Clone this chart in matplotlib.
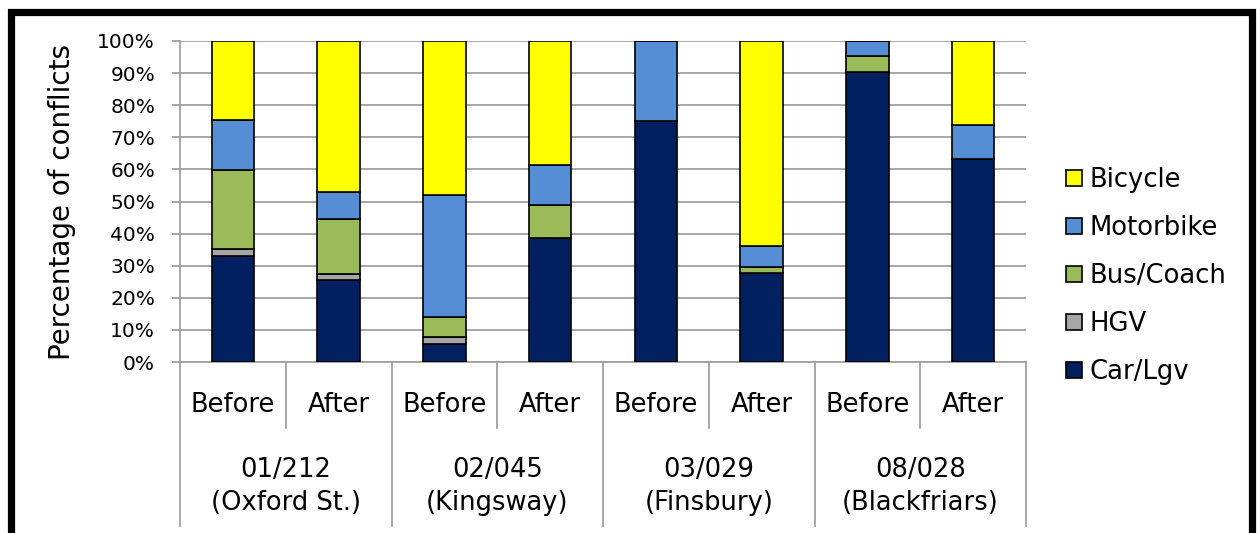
import matplotlib
matplotlib.use("Agg")
import matplotlib.pyplot as plt
from matplotlib.patches import Rectangle, Patch
import numpy as np

plt.rcParams['font.family'] = ['DejaVu Sans']

sites = ["01/212", "02/045", "03/029", "08/028"]
site_names = ["(Oxford St.)", "(Kingsway)", "(Finsbury)", "(Blackfriars)"]
periods = ["Before", "After"]

series_names = ["Car/Lgv", "HGV", "Bus/Coach", "Motorbike", "Bicycle"]
car = [33.0, 25.4, 5.7, 38.7, 75.0, 27.6, 90.4, 63.2]
hgv = [2.3, 2.1, 2.2, 0.0, 0.0, 0.0, 0.0, 0.0]
bus = [24.6, 17.2, 6.1, 10.3, 0.0, 2.0, 4.9, 0.0]
moto = [15.4, 8.4, 38.0, 12.3, 25.0, 6.5, 4.7, 10.6]
bike = [24.7, 46.9, 48.0, 38.7, 0.0, 63.9, 0.0, 26.2]
colors = ["#02205F", "#A6A6A6", "#9BBB59", "#558ED5", "#FFFF00"]

W, H = 1260, 533
fig = plt.figure(figsize=(W / 100, H / 100), dpi=100)
ax = fig.add_axes([180 / W, 1 - 362 / H, (1026 - 180) / W, (362 - 41) / H])

x = np.arange(len(car))
bottom = np.zeros(len(car))
for vals, col, name in zip([car, hgv, bus, moto, bike], colors, series_names):
    v = np.array(vals)
    ax.bar(x, v, width=0.4, bottom=bottom, color=col, edgecolor="black",
           linewidth=1.2, zorder=3, label=name)
    bottom += v

ax.set_xlim(-0.5, len(car) - 0.5)
ax.set_ylim(0, 100)
ax.set_yticks(np.arange(0, 101, 10))
ax.set_yticklabels([f"{v}%" for v in range(0, 101, 10)], fontsize=14.5)
ax.yaxis.grid(True, color="#A0A0A0", linewidth=1.3, zorder=0)
ax.tick_params(axis="y", length=6, width=1.3, color="#A0A0A0", pad=12)
ax.set_xticks([])
for s in ["top", "right"]:
    ax.spines[s].set_visible(False)
for s in ["left", "bottom"]:
    ax.spines[s].set_color("#A0A0A0")
    ax.spines[s].set_linewidth(1.3)
ax.set_ylabel("Percentage of conflicts", fontsize=20, labelpad=15)

# two-level category axis
axh = 362 - 41
def yfrac(py):
    return (362 - py) / axh

trans = ax.get_xaxis_transform()
for b in np.arange(-0.5, len(car), 1.0):
    idx = int(b + 0.5)
    full = (idx % 2 == 0)
    yend = yfrac(526) if full else yfrac(428)
    ax.plot([b, b], [0, yend], color="#A0A0A0", linewidth=1.3,
            transform=trans, clip_on=False, zorder=1)

labels = [p for s in sites for p in periods]
for i, lab in enumerate(labels):
    ax.text(i, yfrac(405), lab, transform=trans, ha="center", va="center",
            fontsize=18.5)
for g, (s, n) in enumerate(zip(sites, site_names)):
    cx = 2 * g + 0.5
    ax.text(cx, yfrac(470), s, transform=trans, ha="center", va="center",
            fontsize=18.5)
    ax.text(cx, yfrac(503), n, transform=trans, ha="center", va="center",
            fontsize=18.5)

# legend
handles = [Patch(facecolor=c, edgecolor="black", linewidth=1.2, label=n)
           for c, n in zip(colors, series_names)][::-1]
fig.legend(handles=handles, loc="center left",
           bbox_to_anchor=(1066 / W, 1 - 276 / H), frameon=False,
           fontsize=18.6, handlelength=0.6, handleheight=0.6,
           handletextpad=0.3, labelspacing=0.85, borderpad=0,
           borderaxespad=0)

# figure border
fig.patches.append(Rectangle((11 / W, -0.2), (1252 - 11) / W, 1 - 11.5 / H + 0.2,
                             transform=fig.transFigure, fill=False,
                             edgecolor="black", linewidth=5.2, zorder=10))

fig.savefig("out.png", dpi=100)
